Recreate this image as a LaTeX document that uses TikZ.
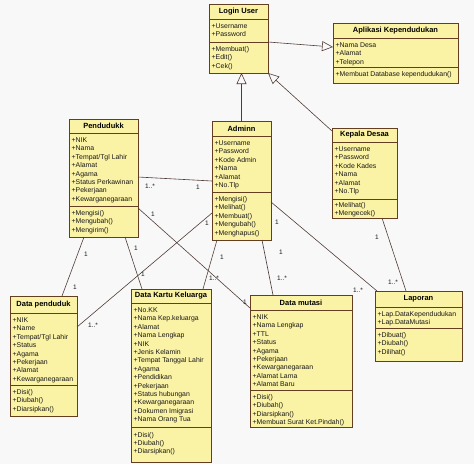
\documentclass[tikz,border=0pt]{standalone}
\usepackage{fontspec}
\setmainfont{Liberation Sans}
\usetikzlibrary{arrows.meta,calc}
\definecolor{clsfill}{RGB}{250,242,164}
\definecolor{clsdraw}{RGB}{100,62,32}
\definecolor{wire}{RGB}{80,60,55}
\definecolor{bgc}{RGB}{248,248,248}
\tikzset{
 cls/.style={draw=clsdraw, fill=clsfill, line width=1pt, anchor=north west, inner sep=0pt, outer sep=0pt},
 sepline/.style={draw=clsdraw, line width=0.8pt},
 hdr/.style={font=\fontsize{7.5}{9}\selectfont\bfseries, inner sep=0pt, text=black},
 txt/.style={font=\fontsize{6.9}{8.4}\selectfont, inner sep=0pt, anchor=base west, text=black!90},
 mult/.style={font=\fontsize{6.5}{8}\selectfont, inner sep=0pt, text=black!90},
 assoc/.style={draw=wire, line width=0.6pt},
 gen/.style={draw=wire, line width=0.6pt, -{Triangle[open,length=11pt,width=10pt]}},
}
\newcommand\umlbox[8]{%
 \node[cls, minimum width={#3pt-#2pt}, minimum height={#7pt-#4pt}] (#1) at (#2,#4) {};
 \draw[sepline] (#2,#5) -- (#3,#5);
 \draw[sepline] (#2,#6) -- (#3,#6);
 \node[hdr, name=#1-t] at ({(#2+#3)/2},{(#4+#5)/2}) {#8};
}
\newcommand\umllines[4]{%
 \foreach \t [count=\i] in {#4} {\node[txt, name=#1\i] at (#2,{#3+(\i-1)*8.4}) {\t};}
}
\begin{document}
\begin{tikzpicture}[x=1pt,y=-1pt]
\fill[bgc] (0,0) rectangle (474,464);
\useasboundingbox (0,0) rectangle (474,464);

\umlbox{login}{209}{268}{4}{19}{42}{73}{Login User}
\umllines{login-a}{211.5}{28.5}{+Username,+Password}
\umllines{login-m}{211.5}{51.5}{+Membuat(),+Edit(),+Cek()}

\umlbox{apl}{333}{458}{23}{38}{67}{83}{Aplikasi Kependudukan}
\umllines{apl-a}{335.5}{47.5}{+Nama Desa,+Alamat,+Telepon}
\umllines{apl-m}{335.5}{76.5}{+Membuat Database kependudukan()}

\umlbox{pend}{69}{138}{119}{133}{206}{237}{Pendudukk}
\umllines{pend-a}{71.5}{142.5}{+NIK,+Nama,+Tempat/Tgl Lahir,+Alamat,+Agama,+Status Perkawinan,+Pekerjaan,+Kewarganegaraan}
\umllines{pend-m}{71.5}{215.5}{+Mengisi(),+Mengubah(),+Mengirim()}

\umlbox{admin}{212}{271}{121}{136}{192}{240}{Adminn}
\umllines{admin-a}{214.5}{145.5}{+Username,+Password,+Kode Admin,+Nama,+Alamat,+No.Tlp}
\umllines{admin-m}{214.5}{201.5}{+Mengisi(),+Melihat(),+Membuat(),+Mengubah(),+Menghapus()}

\umlbox{kep}{332}{397}{128}{142}{199}{218}{Kepala Desaa}
\umllines{kep-a}{334.5}{151.5}{+Username,+Password,+Kode Kades,+Nama,+Alamat,+No.Tlp}
\umllines{kep-m}{334.5}{207.5}{+Melihat(),+Mengecek()}

\umlbox{dpend}{10}{77}{296}{313}{385}{416}{Data penduduk}
\umllines{dpend-a}{12.5}{322.5}{+NIK,+Name,+Tempat/Tgl Lahir,+Status,+Agama,+Pekerjaan,+Alamat,+Kewarganegaraan}
\umllines{dpend-m}{12.5}{394.5}{+Disi(),+Diubah(),+Diarsipkan()}

\umlbox{dkk}{131}{211}{289}{303}{427}{462}{Data Kartu Keluarga}
\umllines{dkk-a}{133.5}{312.5}{+No.KK,+Nama Kep.keluarga,+Alamat,+Nama Lengkap,+NIK,+Jenis Kelamin,+Tempat Tanggal Lahir,+Agama,+Pendidikan,+Pekerjaan,+Status hubungan,+Kewarganegaraan,+Dokumen Imigrasi,+Nama Orang Tua}
\umllines{dkk-m}{133.5}{437}{+Disi(),+Diubah(),+Diarsipkan()}

\umlbox{dmut}{250}{352}{295}{310}{390}{427}{Data mutasi}
\umllines{dmut-a}{252.5}{319.5}{+NIK,+Nama Lengkap,+TTL,+Status,+Agama,+Pekerjaan,+Kewarganegaraan,+Alamat Lama,+Alamat Baru}
\umllines{dmut-m}{252.5}{399.5}{+Disi(),+Diubah(),+Diarsipkan(),+Membuat Surat Ket.Pindah()}

\umlbox{lap}{375}{462}{291}{307}{328}{361}{Laporan}
\umllines{lap-a}{377.5}{316.5}{+Lap.DataKependudukan,+Lap.DataMutasi}
\umllines{lap-m}{377.5}{337.5}{+Dibuat(),+Diubah(),+Dilihat()}

% generalizations
\draw[gen] ($(login.north west)+(59,38)$) -- ($(apl.north west)+(0,24)$);
\draw[gen] (admin.north) -- (admin.north |- login.south);
\draw[gen] ($(kep.north west)+(0,3)$) -- (login.south east);

% associations
\draw[assoc] ($(pend.north west)+(69,58)$) -- ($(admin.north west)+(0,60)$);
\draw[assoc] ($(pend.north west)+(69,89)$) -- ($(dmut.north west)+(0,13)$);
\draw[assoc] ($(admin.north west)+(0,92)$) -- ($(dpend.north west)+(67,31)$);
\draw[assoc] ($(pend.north west)+(15,118)$) -- ($(dpend.north west)+(52,0)$);
\draw[assoc] ($(pend.north west)+(56,118)$) -- ($(dkk.north west)+(11,0)$);
\draw[assoc] ($(admin.north west)+(5,119)$) -- ($(dkk.north west)+(72,0)$);
\draw[assoc] ($(admin.north west)+(50,119)$) -- ($(dmut.north west)+(23,0)$);
\draw[assoc] ($(admin.north west)+(59,81)$) -- ($(lap.north west)+(2,0)$);
\draw[assoc] ($(kep.north west)+(50,90)$) -- ($(lap.north west)+(31,0)$);

% multiplicities
\node[mult] (mD1) at (150,186) {1..*};
\node[mult] (mD2) at (198,187) {1};
\node[mult] (mE1) at (153,214) {1};
\node[mult] (mE2) at (245,302) {1};
\node[mult] (mF1) at (207,223) {1};
\node[mult] (mF2) at (93,325) {1..*};
\node[mult] (mG1) at (86,254) {1};
\node[mult] (mG2) at (75,287) {1};
\node[mult] (mH1) at (136,248) {1};
\node[mult] (mH2) at (143,274) {1};
\node[mult] (mI1) at (222,257) {1};
\node[mult] (mI2) at (214,278) {1..*};
\node[mult] (mJ1) at (281,252) {1};
\node[mult] (mJ2) at (282,278) {1..*};
\node[mult] (mK1) at (277,222) {1};
\node[mult] (mK2) at (358,290) {1..*};
\node[mult] (mL1) at (377,237) {1};
\node[mult] (mL2) at (393,282) {1..*};
\end{tikzpicture}
\end{document}
